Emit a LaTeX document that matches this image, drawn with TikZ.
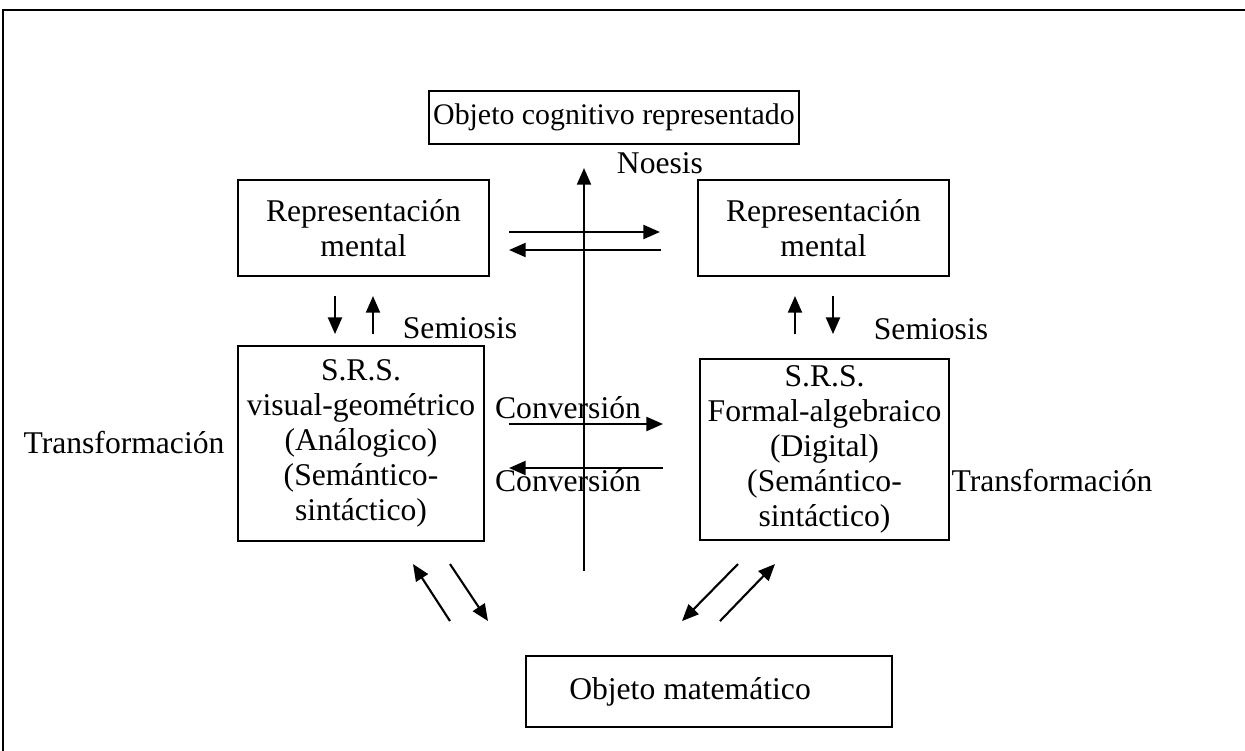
\documentclass[tikz,border=0pt]{standalone}
\usepackage{fontspec}
\setmainfont{Liberation Serif}
\usepackage{tikz}
\usetikzlibrary{arrows.meta,positioning}
\usetikzlibrary{calc}

\begin{document}
\begin{tikzpicture}[x=0.02cm, y=-0.02cm,
        box/.style={draw, line width=1.2pt, inner sep=0pt, align=center, font=\fontsize{18}{20}\selectfont},
        lbl/.style={inner sep=0pt, font=\fontsize{18}{20}\selectfont},
        arr/.style={line width=1.2pt, -{Triangle[length=9.5pt,width=8pt]}}]

        \useasboundingbox (0,0) rectangle (1245,751);

        % draw the frame
        \draw[line width=1.5pt] (3,760) -- (3,10) -- (1250,10);

        % draw the boxes
        \node[box, minimum width=7.4cm, minimum height=1.06cm, font=\fontsize{17}{20}\selectfont] (obj_cog) at (614,117.5) {Objeto cognitivo representado};
        \node[box, minimum width=5.02cm, minimum height=1.92cm] (rm_left) at (363.5,228) {Representación\\mental};
        \node[box, minimum width=5.02cm, minimum height=1.92cm] (rm_right) at (823.5,228) {Representación\\mental};
        \node[box, minimum width=4.92cm, minimum height=3.9cm] (srs_left) at (361,443.5) {S.R.S.\\visual-geométrico\\(Análogico)\\(Semántico-\\sintáctico)};
        \node[box, minimum width=4.98cm, minimum height=3.62cm] (srs_right) at (824.5,449.5) {S.R.S.\\Formal-algebraico\\(Digital)\\(Semántico-\\sintáctico)};
        \node[box, minimum width=7.32cm, minimum height=1.42cm] (obj_mat) at (709,691.5) {Objeto matemático\hspace*{0.76cm}};

        % draw the labels
        \node[lbl] (noesis) at (660,163) {Noesis};
        \node[lbl] (semiosis_l) at (460,328) {Semiosis};
        \node[lbl] (semiosis_r) at (931,329) {Semiosis};
        \node[lbl] (transf_l) at (124,443) {Transformación};
        \node[lbl] (transf_r) at (1052,481) {Transformación};
        \node[lbl] (conv_top) at (568,408) {Conversión};
        \node[lbl] (conv_bot) at (568,481) {Conversión};

        % draw the arrows
        \draw[arr] ($(obj_cog.south) + (-30,426)$) -- ($(obj_cog.south) + (-30,23)$);
        \draw[arr] ($(rm_left.east) + (19,4)$) -- ($(rm_right.west) + (-37,4)$);
        \draw[arr] ($(rm_right.west) + (-36,22)$) -- ($(rm_left.east) + (19,22)$);
        \draw[arr] ($(rm_left.south) + (-28.5,19)$) -- ($(rm_left.south) + (-28.5,57)$);
        \draw[arr] ($(rm_left.south) + (9.5,57)$) -- ($(rm_left.south) + (9.5,19)$);
        \draw[arr] ($(rm_right.south) + (-28.5,57)$) -- ($(rm_right.south) + (-28.5,19)$);
        \draw[arr] ($(rm_right.south) + (9.5,19)$) -- ($(rm_right.south) + (9.5,57)$);
        \draw[arr] ($(srs_left.east) + (24,-19.5)$) -- ($(srs_left.east) + (178,-19.5)$);
        \draw[arr] ($(srs_left.east) + (178,24.5)$) -- ($(srs_left.east) + (24,24.5)$);
        \draw[arr] ($(srs_left.south) + (89,79)$) -- ($(srs_left.south) + (52,22)$);
        \draw[arr] ($(srs_left.south) + (89,22)$) -- ($(srs_left.south) + (127,79)$);
        \draw[arr] ($(srs_right.south) + (-86.5,23)$) -- ($(srs_right.south) + (-142.5,80)$);
        \draw[arr] ($(srs_right.south) + (-104.5,80)$) -- ($(srs_right.south) + (-49.5,23)$);

\end{tikzpicture}
\end{document}
